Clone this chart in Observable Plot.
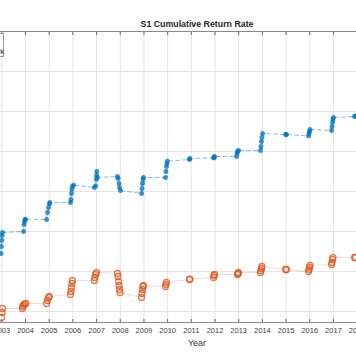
<!DOCTYPE html>
<html><head><meta charset="utf-8">
<script src="https://cdn.jsdelivr.net/npm/d3@7"></script>
<script src="https://cdn.jsdelivr.net/npm/@observablehq/plot@0.6"></script>
<style>
html,body{margin:0;padding:0;overflow:hidden;background:#fff;width:356px;height:364px}
#wrap{position:relative;width:356px;height:364px;overflow:hidden;font-family:"Liberation Sans",Arial,sans-serif}
#title{position:absolute;left:0;width:394px;top:19px;text-align:center;font-weight:bold;font-size:8.8px;line-height:10px;color:#262626}
#xlabel{position:absolute;left:0;width:394px;top:338px;text-align:center;font-size:9px;line-height:10px;color:#404040}
#legend{position:absolute;left:-60px;top:33px;width:64px;height:24px;box-sizing:border-box;border:1px solid #9a9a9a;background:#fff;font-size:7.5px;line-height:9px;padding:4px 0 0 25px;color:#262626;white-space:nowrap}
</style>
</head><body>
<div id="wrap"></div>
<script>
const xTicks = [2003,2004,2005,2006,2007,2008,2009,2010,2011,2012,2013,2014,2015,2016,2017,2018];
const yGrid = [1,2,3,4,5,6,7];
const xDomain = [2002.945, 2018.057];
const yDomain = [0.725, 8];

const blueYear = [2002.97,2002.98,2003.00,2003.01,2003.03,
  2003.92,2003.94,2003.96,2003.98,2004.00,
  2004.89,2004.93,2004.97,2005.01,2005.03,
  2005.90,2005.92,2005.94,2005.96,2005.98,2006.03,
  2006.91,2006.96,2006.99,2007.00,2007.01,2007.03,
  2007.88,2007.91,2007.95,2007.97,2008.01,
  2008.90,2008.92,2008.94,2008.96,2008.98,
  2009.91,2009.93,2009.95,2009.97,2009.99,
  2010.92,2010.94,
  2011.94,2011.96,2011.98,
  2012.91,2012.93,2012.95,2012.99,
  2013.92,2013.94,2013.96,2013.98,2014.01,
  2014.98,2015.02,
  2015.95,2015.97,2015.99,2016.01,
  2016.92,2016.94,2016.96,2016.98,2017.00,
  2017.89,2017.93];
const blueValue = [2.45,2.625,2.775,2.9,2.975,
  3.0,3.175,3.25,3.29,3.31,
  3.3,3.475,3.6,3.69,3.725,
  3.725,3.8,3.95,4.05,4.125,4.16,
  4.1,4.14,4.3,4.4,4.5,4.35,
  4.375,4.325,4.2,4.1,4.025,
  3.95,4.075,4.2,4.3,4.35,
  4.35,4.5,4.625,4.7,4.76,
  4.8,4.825,
  4.84,4.85,4.875,
  4.875,4.95,5.0,5.025,
  5.025,5.125,5.25,5.35,5.45,
  5.425,5.425,
  5.39,5.45,5.5,5.55,
  5.525,5.625,5.725,5.8,5.85,
  5.875,5.89];

const orangeYear = [2002.99,2003.01,2003.03,
  2003.87,2003.89,2003.92,2003.96,2004.02,
  2004.89,2004.93,2004.97,2005.01,
  2005.90,2005.92,2005.94,2005.96,2005.98,
  2006.91,2006.93,2006.96,2007.00,
  2007.88,2007.91,2007.93,2007.95,2007.97,2007.99,
  2008.90,2008.92,2008.94,2008.96,2008.98,
  2009.91,2009.93,2009.95,
  2010.92,2010.94,
  2011.94,2011.96,2011.98,
  2012.95,2012.97,2012.99,
  2013.92,2013.94,2013.96,2013.98,
  2014.98,2015.02,
  2015.95,2015.97,2015.99,2016.01,
  2016.92,2016.94,2016.96,2016.98,
  2017.89,2017.93];
const orangeValue = [0.85,0.975,1.075,
  1.075,1.125,1.16,1.19,1.2,
  1.2,1.275,1.35,1.375,
  1.425,1.5,1.6,1.7,1.775,
  1.775,1.85,1.925,1.975,
  1.95,1.875,1.75,1.65,1.55,1.475,
  1.35,1.45,1.55,1.625,1.65,
  1.625,1.675,1.725,
  1.8,1.81,
  1.85,1.9,1.925,
  1.925,1.95,1.975,
  1.975,2.025,2.075,2.125,
  2.05,2.05,
  2.0,2.05,2.1,2.15,
  2.175,2.225,2.3,2.35,
  2.35,2.35];

const blue = blueYear.map((x, i) => ({x, y: blueValue[i]}));
const orange = orangeYear.map((x, i) => ({x, y: orangeValue[i]}));

const chart = Plot.plot({
  width: 358, height: 364,
  marginLeft: 0, marginRight: 0, marginTop: 31, marginBottom: 42,
  style: {fontFamily: "'Liberation Sans', Arial, sans-serif", fontSize: "7.5px", maxWidth: "none", background: "#fff", color: "#333"},
  x: {domain: xDomain},
  y: {domain: yDomain, axis: null},
  marks: [
    Plot.ruleX(xTicks, {stroke: "#e4e4e4"}),
    Plot.ruleY(yGrid, {stroke: "#e4e4e4"}),
    Plot.ruleY([yDomain[1]], {stroke: "#8a8a8a"}),
    Plot.ruleY([yDomain[0]], {stroke: "#8a8a8a"}),
    Plot.axisX(xTicks, {anchor: "top", tickSize: 3, dy: 3, tickFormat: () => "", label: null, stroke: "#666"}),
    Plot.axisX(xTicks, {anchor: "bottom", tickSize: 3, dy: -3, tickFormat: () => "", label: null, stroke: "#666"}),
    Plot.axisX(xTicks, {anchor: "bottom", tickSize: 0, tickPadding: 5, tickFormat: d => String(d), label: null, fill: "#404040"}),
    Plot.line(orange, {x: "x", y: "y", stroke: "#D95319", strokeOpacity: 0.22, strokeWidth: 1}),
    Plot.line(blue, {x: "x", y: "y", stroke: "#0072BD", strokeOpacity: 0.45, strokeWidth: 1, strokeDasharray: "4,3"}),
    Plot.dot(orange, {x: "x", y: "y", r: 3, fill: "none", stroke: "#D95319", strokeWidth: 1.3, strokeOpacity: 0.75}),
    Plot.dot(blue, {x: "x", y: "y", r: 2.2, fill: "#0072BD", fillOpacity: 0.75, stroke: "#0072BD", strokeOpacity: 0.4, strokeWidth: 1})
  ]
});

const wrap = document.getElementById("wrap");
wrap.appendChild(chart);
const title = document.createElement("div");
title.id = "title"; title.textContent = "S1 Cumulative Return Rate";
wrap.appendChild(title);
const legend = document.createElement("div");
legend.id = "legend"; legend.innerHTML = "S1<br>Benchmark";
wrap.appendChild(legend);
const xl = document.createElement("div");
xl.id = "xlabel"; xl.textContent = "Year";
wrap.appendChild(xl);
</script>
</body></html>
